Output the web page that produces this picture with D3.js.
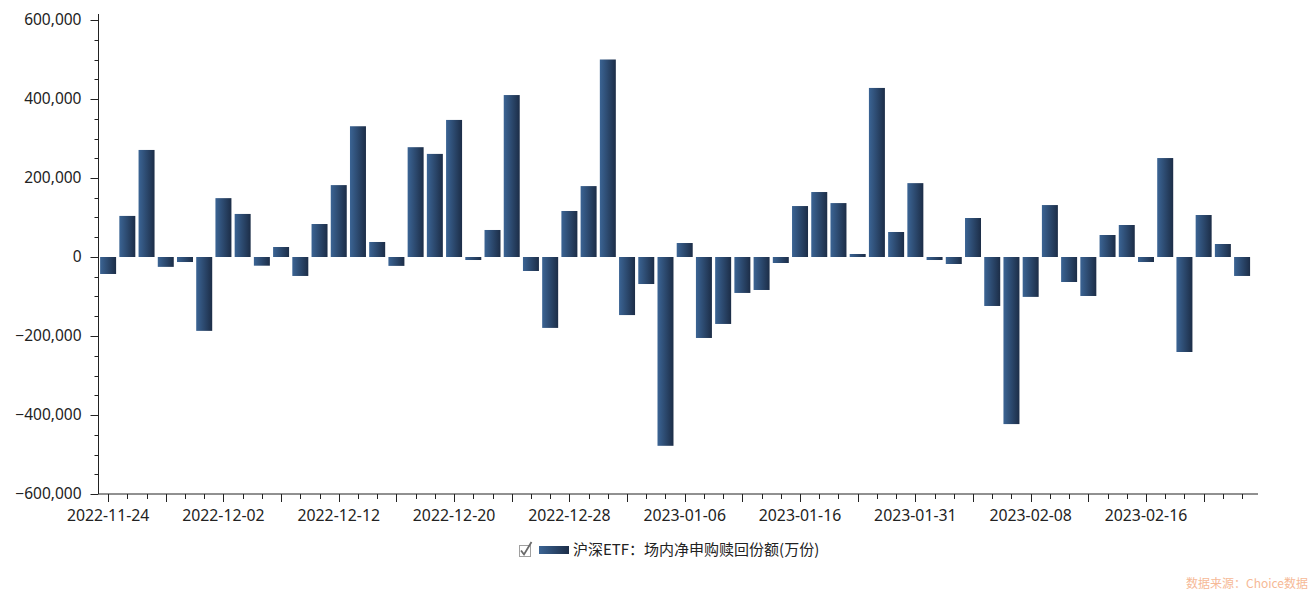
<!DOCTYPE html>
<html>
<head>
<meta charset="utf-8">
<script src="https://cdn.jsdelivr.net/npm/d3@7"></script>
<style>
  body { margin: 0; background: #fff; }
  svg { display: block; }
</style>
</head>
<body>
<div id="chart"></div>
<script>
const dates = [
  "2022-11-24","2022-11-25","2022-11-28","2022-11-29","2022-11-30",
  "2022-12-01","2022-12-02","2022-12-05","2022-12-06","2022-12-07","2022-12-08","2022-12-09",
  "2022-12-12","2022-12-13","2022-12-14","2022-12-15","2022-12-16","2022-12-19","2022-12-20",
  "2022-12-21","2022-12-22","2022-12-23","2022-12-26","2022-12-27","2022-12-28","2022-12-29","2022-12-30",
  "2023-01-03","2023-01-04","2023-01-05","2023-01-06","2023-01-09","2023-01-10","2023-01-11","2023-01-12",
  "2023-01-13","2023-01-16","2023-01-17","2023-01-18","2023-01-19","2023-01-20","2023-01-30","2023-01-31",
  "2023-02-01","2023-02-02","2023-02-03","2023-02-06","2023-02-07","2023-02-08","2023-02-09","2023-02-10",
  "2023-02-13","2023-02-14","2023-02-15","2023-02-16","2023-02-17","2023-02-20","2023-02-21","2023-02-22","2023-02-23"
];
const netRedemption = [
  -43000, 104000, 271000, -25000, -12700, -187000, 149000, 109000, -22000, 25300, -48000, 83500,
  182000, 331000, 38000, -22500, 278000, 261000, 347000, -7600, 68400, 410000, -35400, -179500,
  116500, 179500, 500000, -147000, -68400, -478000, 35400, -205000, -169500, -91000, -83500, -15200,
  129000, 164500, 136500, 7600, 428000, 63300, 187000, -7600, -17700, 98700,
  -124000, -423000, -101000, 131500, -63300, -98700, 55700, 81000, -12700, 250500, -240500, 106300, 32900, -48000
];
const yTicks = [-600000, -400000, -200000, 0, 200000, 400000, 600000];
const xLabelEvery = 6;
const seriesName = "沪深ETF：场内净申购赎回份额(万份)";
const sourceText = "数据来源：Choice数据";

const width = 1312, height = 591;
const plotLeft = 98.5, plotRight = 1251.7, plotTop = 20, plotBottom = 494;

const svg = d3.select("#chart").append("svg").attr("width", width).attr("height", height);

const defs = svg.append("defs");
const grad = defs.append("linearGradient").attr("id", "barGrad").attr("x1", "0").attr("x2", "1").attr("y1", "0").attr("y2", "0");
grad.append("stop").attr("offset", "0%").attr("stop-color", "#3b6494");
grad.append("stop").attr("offset", "100%").attr("stop-color", "#1c2d47");

const x = d3.scaleBand().domain(dates).range([plotLeft, plotRight]).paddingInner(0.168).paddingOuter(0.084);
const y = d3.scaleLinear().domain([-600000, 600000]).range([plotBottom, plotTop]);

// bars
svg.append("g").selectAll("rect").data(netRedemption).join("rect")
  .attr("x", (d, i) => x(dates[i]))
  .attr("width", x.bandwidth())
  .attr("y", d => y(Math.max(0, d)))
  .attr("height", d => Math.abs(y(d) - y(0)))
  .attr("fill", "url(#barGrad)");

// y axis
const yMinor = d3.range(-600000, 600001, 50000);
const yAxisG = svg.append("g").attr("transform", `translate(${plotLeft},0)`);
yAxisG.append("line").attr("x1", 0).attr("x2", 0).attr("y1", 14).attr("y2", plotBottom).attr("stroke", "#222").attr("stroke-width", 1);
yAxisG.selectAll("line.minor").data(yMinor).join("line").attr("class", "minor")
  .attr("x1", d => yTicks.includes(d) ? -8 : -4).attr("x2", 0)
  .attr("y1", d => Math.round(y(d)) + 0.5).attr("y2", d => Math.round(y(d)) + 0.5)
  .attr("stroke", "#222");
yAxisG.selectAll("text").data(yTicks).join("text")
  .attr("x", -17).attr("y", d => y(d)).attr("dy", "0.35em")
  .attr("text-anchor", "end")
  .attr("font-family", "'Noto Sans', sans-serif").attr("font-size", 15.5).attr("fill", "#222")
  .text(d => d3.format(",")(d));

// x axis
const xAxisG = svg.append("g").attr("transform", `translate(0,${plotBottom})`);
xAxisG.append("line").attr("x1", plotLeft).attr("x2", 1258).attr("y1", 0).attr("y2", 0).attr("stroke", "#222");
xAxisG.selectAll("line.tick").data(dates).join("line").attr("class", "tick")
  .attr("x1", d => Math.round(x(d) + x.bandwidth() / 2) + 0.5)
  .attr("x2", d => Math.round(x(d) + x.bandwidth() / 2) + 0.5)
  .attr("y1", 0).attr("y2", (d, i) => i % 3 === 0 ? 8 : 5)
  .attr("stroke", "#222");
xAxisG.selectAll("text").data(dates.filter((d, i) => i % xLabelEvery === 0)).join("text")
  .attr("x", d => x(d) + x.bandwidth() / 2).attr("y", 27)
  .attr("text-anchor", "middle")
  .attr("font-family", "'Noto Sans', sans-serif").attr("font-size", 15.8).attr("fill", "#222")
  .text(d => d);

// legend
const lg = svg.append("g").attr("transform", "translate(519,545)");
lg.append("rect").attr("x", 0.5).attr("y", 0.5).attr("width", 11).attr("height", 11)
  .attr("fill", "#fff").attr("stroke", "#a0a0a0");
lg.append("path").attr("d", "M2,5.5 L5,9.5 L12.5,-3").attr("fill", "none").attr("stroke", "#6a6a6a").attr("stroke-width", 1.8);
lg.append("rect").attr("x", 20).attr("y", 1).attr("width", 30).attr("height", 8).attr("fill", "url(#barGrad)");
lg.append("text").attr("x", 54).attr("y", 4.5).attr("dy", "0.36em")
  .attr("font-family", "'Noto Sans CJK SC', sans-serif").attr("font-size", 15).attr("fill", "#222")
  .text(seriesName);

// source
svg.append("text").attr("x", 1308).attr("y", 588).attr("text-anchor", "end")
  .attr("font-family", "'Noto Sans CJK SC', sans-serif").attr("font-size", 12).attr("fill", "#f6b996")
  .text(sourceText);
</script>
</body>
</html>
